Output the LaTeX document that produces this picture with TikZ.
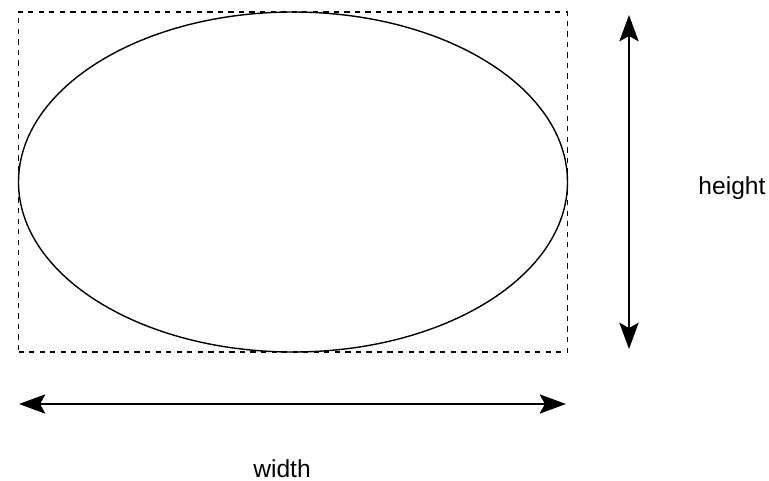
\documentclass[tikz,border=0pt]{standalone}
\usepackage{fontspec}
\setmainfont{Liberation Sans}
\usetikzlibrary{arrows.meta,shapes.geometric}
\begin{document}
\begin{tikzpicture}[x=0.02cm, y=-0.02cm, line width=0.8pt,
    >={Stealth[length=15pt,width=11pt,inset=3pt]},
    lbl/.style={font=\fontsize{14}{16}\selectfont, inner sep=0pt}]

    \useasboundingbox (0,0) rectangle (769,481);

    % --- Riquadro tratteggiato ed ellisse inscritta ---
    \node[draw, dashed, line width=0.6pt, minimum width=549*0.02cm, minimum height=340*0.02cm,
        inner sep=0pt] (box) at (293,182) {};
    \node[draw, ellipse, minimum width=549*0.02cm, minimum height=340*0.02cm,
        inner sep=0pt] (oval) at (box.center) {};

    % --- Freccia verticale (altezza) ---
    \coordinate (htop) at (629,15);
    \coordinate (hbot) at (629,349);
    \draw[<->] (htop) -- (hbot);
    \node[lbl] (height) at (732,188) {height};

    % --- Freccia orizzontale (larghezza) ---
    \coordinate (wleft) at (19,404);
    \coordinate (wright) at (566,404);
    \draw[<->] (wleft) -- (wright);
    \node[lbl] (width) at (282,469) {width};

\end{tikzpicture}
\end{document}
